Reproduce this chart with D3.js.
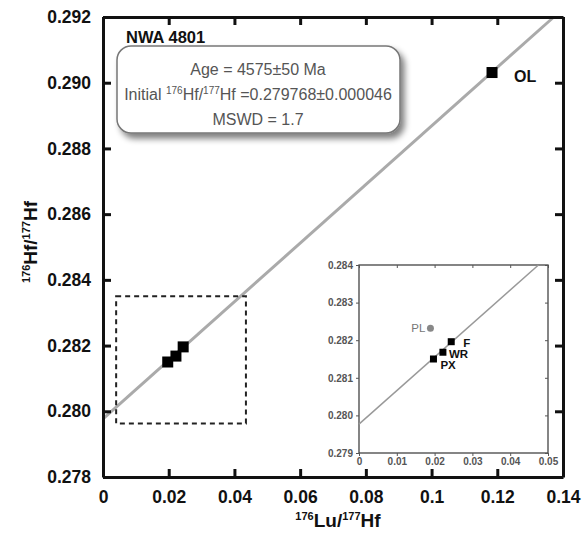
<!DOCTYPE html>
<html>
<head>
<meta charset="utf-8">
<script src="https://cdn.jsdelivr.net/npm/d3@7"></script>
<style>
  body { margin: 0; background: #fff; }
  svg { font-family: Arial, "Liberation Sans", sans-serif; }
</style>
</head>
<body>
<div id="vis"></div>
<script>
var width = 587,
    height = 538;

// sample data (176Lu/177Hf, 176Hf/177Hf)
var samples = ["PX", "WR", "F", "OL", "PL"];
var luHf = [0.0197, 0.0222, 0.0244, 0.1184, 0.0189];
var hfHf = [0.28150, 0.28168, 0.28196, 0.29031, 0.28232];

// isochron end points
var isoLu = [0, 0.1372];
var isoHf = [0.279768, 0.292];

var xTicks = [0, 0.02, 0.04, 0.06, 0.08, 0.1, 0.12, 0.14];
var yTicks = [0.278, 0.280, 0.282, 0.284, 0.286, 0.288, 0.290, 0.292];
var insetXTicks = [0, 0.01, 0.02, 0.03, 0.04, 0.05];
var insetYTicks = [0.279, 0.280, 0.281, 0.282, 0.283, 0.284];

// dashed zoom box
var boxLu = [0.004, 0.0435];
var boxHf = [0.27963, 0.2835];

var infoLines = ["Age = 4575\u00b150 Ma", "initial", "MSWD = 1.7"];

var data = samples.map(function(s, i) {
  return {name: s, x: luHf[i], y: hfHf[i]};
});

var svg = d3.select("#vis").append("svg")
    .attr("width", width)
    .attr("height", height);

var defs = svg.append("defs");
var shadow = defs.append("filter").attr("id", "shadow")
    .attr("x", "-10%").attr("y", "-10%").attr("width", "130%").attr("height", "140%");
shadow.append("feGaussianBlur").attr("in", "SourceAlpha").attr("stdDeviation", 3);
shadow.append("feOffset").attr("dx", 4).attr("dy", 5).attr("result", "blur");
shadow.append("feComponentTransfer").append("feFuncA").attr("type", "linear").attr("slope", 0.5);
var merge = shadow.append("feMerge");
merge.append("feMergeNode");
merge.append("feMergeNode").attr("in", "SourceGraphic");

var x = d3.scaleLinear().domain([0, 0.14]).range([103, 563]);
var y = d3.scaleLinear().domain([0.278, 0.292]).range([477, 17]);

// isochron
svg.append("line")
  .attr("x1", x(isoLu[0])).attr("y1", y(isoHf[0]))
  .attr("x2", x(isoLu[1])).attr("y2", y(isoHf[1]))
  .attr("stroke", "#aaa")
  .attr("stroke-width", 3);

// dashed rectangle
svg.append("rect")
  .attr("x", x(boxLu[0]))
  .attr("y", y(boxHf[1]))
  .attr("width", x(boxLu[1]) - x(boxLu[0]))
  .attr("height", y(boxHf[0]) - y(boxHf[1]))
  .attr("fill", "none")
  .attr("stroke", "#222")
  .attr("stroke-width", 2)
  .attr("stroke-dasharray", "5,4");

// axes
function styleAxis(g, lw) {
  g.select(".domain").attr("stroke", "#111").attr("stroke-width", lw);
  g.selectAll(".tick line").attr("stroke", "#111").attr("stroke-width", lw);
}

var tickFmtX = function(d) { return d === 0 ? "0" : d3.format("")(+d.toFixed(2)); };

var xAxis = svg.append("g")
  .attr("transform", "translate(0," + y(0.278) + ")")
  .call(d3.axisBottom(x).tickValues(xTicks).tickSizeInner(-8).tickSizeOuter(0).tickPadding(14).tickFormat(tickFmtX));
styleAxis(xAxis, 3);
xAxis.selectAll("text").attr("font-size", 17.5).attr("font-weight", "bold").attr("fill", "#111");

var xTop = svg.append("g")
  .attr("transform", "translate(0," + y(0.292) + ")")
  .call(d3.axisTop(x).tickValues(xTicks).tickSizeInner(-8).tickSizeOuter(0).tickFormat(""));
styleAxis(xTop, 3);

var yAxis = svg.append("g")
  .attr("transform", "translate(" + x(0) + ",0)")
  .call(d3.axisLeft(y).tickValues(yTicks).tickSizeInner(-8).tickSizeOuter(0).tickPadding(12).tickFormat(d3.format(".3f")));
styleAxis(yAxis, 3);
yAxis.selectAll("text").attr("font-size", 17.5).attr("font-weight", "bold").attr("fill", "#111");

var yRight = svg.append("g")
  .attr("transform", "translate(" + x(0.14) + ",0)")
  .call(d3.axisRight(y).tickValues(yTicks).tickSizeInner(-8).tickSizeOuter(0).tickFormat(""));
styleAxis(yRight, 3);

// axis titles
var xt = svg.append("text")
  .attr("x", 338).attr("y", 527)
  .attr("text-anchor", "middle")
  .attr("font-weight", "bold").attr("font-size", 19).attr("fill", "#111");
xt.append("tspan").attr("font-size", 11).attr("dy", -7).text("176");
xt.append("tspan").attr("dy", 7).text("Lu/");
xt.append("tspan").attr("font-size", 11).attr("dy", -7).text("177");
xt.append("tspan").attr("dy", 7).text("Hf");

var yt = svg.append("text")
  .attr("transform", "translate(37,242) rotate(-90)")
  .attr("text-anchor", "middle")
  .attr("font-weight", "bold").attr("font-size", 19).attr("fill", "#111");
yt.append("tspan").attr("font-size", 11).attr("dy", -7).text("176");
yt.append("tspan").attr("dy", 7).text("Hf/");
yt.append("tspan").attr("font-size", 11).attr("dy", -7).text("177");
yt.append("tspan").attr("dy", 7).text("Hf");

// main points (PL not shown in main panel)
var mainPts = data.filter(function(d) { return d.name !== "PL"; });
svg.selectAll("rect.pt")
  .data(mainPts)
  .enter()
  .append("rect")
  .attr("class", "pt")
  .attr("x", function(d) { return x(d.x) - 5.5; })
  .attr("y", function(d) { return y(d.y) - 5.5; })
  .attr("width", 11)
  .attr("height", 11)
  .attr("fill", "#000");

var ol = mainPts.filter(function(d) { return d.name === "OL"; })[0];
svg.append("text")
  .attr("x", x(ol.x) + 22).attr("y", y(ol.y) + 9)
  .attr("font-weight", "bold").attr("font-size", 16).attr("fill", "#111")
  .text("OL");

// title
svg.append("text")
  .attr("x", 126).attr("y", 43)
  .attr("font-weight", "bold").attr("font-size", 16.5).attr("fill", "#111")
  .text("NWA 4801");

// info box
svg.append("rect")
  .attr("x", 117).attr("y", 46)
  .attr("width", 283).attr("height", 87)
  .attr("rx", 14).attr("ry", 14)
  .attr("fill", "#fff")
  .attr("stroke", "#777")
  .attr("stroke-width", 1.5)
  .attr("filter", "url(#shadow)");

var info = svg.append("g").attr("fill", "#555").attr("font-size", 16).attr("text-anchor", "middle");
info.append("text").attr("x", 258).attr("y", 75).text(infoLines[0]);
var il = info.append("text").attr("x", 258).attr("y", 100);
il.append("tspan").text("Initial ");
il.append("tspan").attr("font-size", 10).attr("dy", -6).text("176");
il.append("tspan").attr("dy", 6).text("Hf/");
il.append("tspan").attr("font-size", 10).attr("dy", -6).text("177");
il.append("tspan").attr("dy", 6).text("Hf =0.279768\u00b10.000046");
info.append("text").attr("x", 258).attr("y", 125).text(infoLines[2]);

// ---------- inset ----------
var ix = d3.scaleLinear().domain([0, 0.05]).range([359, 548]);
var iy = d3.scaleLinear().domain([0.279, 0.284]).range([453, 265]);

var inset = svg.append("g");

inset.append("rect")
  .attr("x", ix(0)).attr("y", iy(0.284))
  .attr("width", ix(0.05) - ix(0))
  .attr("height", iy(0.279) - iy(0.284))
  .attr("fill", "#fff")
  .attr("stroke", "#444")
  .attr("stroke-width", 1.3);

var iLineEnd = (0.284 - isoHf[0]) / ((isoHf[1] - isoHf[0]) / (isoLu[1] - isoLu[0]));
inset.append("line")
  .attr("x1", ix(0)).attr("y1", iy(isoHf[0]))
  .attr("x2", ix(iLineEnd)).attr("y2", iy(0.284))
  .attr("stroke", "#999")
  .attr("stroke-width", 1.5);

function styleInset(g) {
  g.select(".domain").remove();
  g.selectAll(".tick line").attr("stroke", "#555");
  g.selectAll("text").attr("font-size", 10).attr("font-weight", "bold").attr("fill", "#555");
}

var ixAxis = inset.append("g")
  .attr("transform", "translate(0," + iy(0.279) + ")")
  .call(d3.axisBottom(ix).tickValues(insetXTicks).tickSize(3).tickPadding(2)
    .tickFormat(function(d) { return d === 0 ? "0" : d.toFixed(2); }));
styleInset(ixAxis);

var iyAxis = inset.append("g")
  .attr("transform", "translate(" + ix(0) + ",0)")
  .call(d3.axisLeft(iy).tickValues(insetYTicks).tickSize(3).tickPadding(3).tickFormat(d3.format(".3f")));
styleInset(iyAxis);

var ixTop = inset.append("g")
  .attr("transform", "translate(0," + iy(0.284) + ")")
  .call(d3.axisTop(ix).tickValues(insetXTicks).tickSize(-3).tickFormat(""));
styleInset(ixTop);

var iyRight = inset.append("g")
  .attr("transform", "translate(" + ix(0.05) + ",0)")
  .call(d3.axisRight(iy).tickValues(insetYTicks).tickSize(-3).tickFormat(""));
styleInset(iyRight);

var insetPts = data.filter(function(d) { return d.name !== "OL"; });

inset.selectAll("rect.ipt")
  .data(insetPts.filter(function(d) { return d.name !== "PL"; }))
  .enter()
  .append("rect")
  .attr("class", "ipt")
  .attr("x", function(d) { return ix(d.x) - 3.5; })
  .attr("y", function(d) { return iy(d.y) - 3.5; })
  .attr("width", 7)
  .attr("height", 7)
  .attr("fill", "#000");

var pl = insetPts.filter(function(d) { return d.name === "PL"; })[0];
inset.append("circle")
  .attr("cx", ix(pl.x)).attr("cy", iy(pl.y))
  .attr("r", 3.5)
  .attr("fill", "#888");

var labelOff = {
  PX: [7, 10, "#111", "bold"],
  WR: [6, 6, "#111", "bold"],
  F: [12, 5, "#111", "bold"],
  PL: [-5, 4, "#777", "normal"]
};

inset.selectAll("text.ilab")
  .data(insetPts)
  .enter()
  .append("text")
  .attr("class", "ilab")
  .attr("x", function(d) { return ix(d.x) + labelOff[d.name][0]; })
  .attr("y", function(d) { return iy(d.y) + labelOff[d.name][1]; })
  .attr("text-anchor", function(d) { return d.name === "PL" ? "end" : "start"; })
  .attr("font-size", 11.5)
  .attr("font-weight", function(d) { return labelOff[d.name][3]; })
  .attr("fill", function(d) { return labelOff[d.name][2]; })
  .text(function(d) { return d.name; });
</script>
</body>
</html>
